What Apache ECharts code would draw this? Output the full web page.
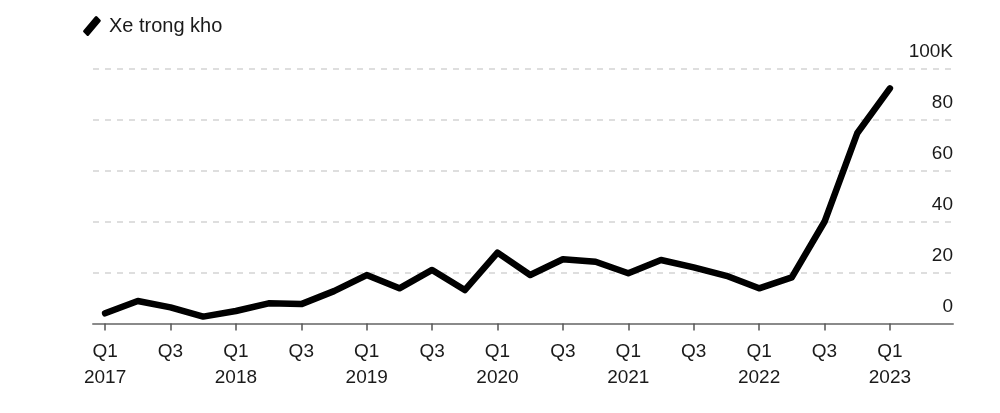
<!DOCTYPE html>
<html>
<head>
<meta charset="utf-8">
<script src="https://cdn.jsdelivr.net/npm/echarts@6/dist/echarts.min.js"></script>
<style>
  html, body { margin: 0; padding: 0; background: #fff; }
  #chart { width: 1000px; height: 413px; }
</style>
</head>
<body>
<div id="chart"></div>
<script>
// Quarterly categories (Q1 2017 .. Q1 2023)
const quarters = [
  'Q1 2017','Q2 2017','Q3 2017','Q4 2017',
  'Q1 2018','Q2 2018','Q3 2018','Q4 2018',
  'Q1 2019','Q2 2019','Q3 2019','Q4 2019',
  'Q1 2020','Q2 2020','Q3 2020','Q4 2020',
  'Q1 2021','Q2 2021','Q3 2021','Q4 2021',
  'Q1 2022','Q2 2022','Q3 2022','Q4 2022',
  'Q1 2023'
];
// Vehicles in inventory (thousands)
const inventory = [
  4.0, 8.8, 6.3, 2.7,
  4.9, 7.9, 7.6, 12.7,
  19.0, 13.8, 21.0, 13.1,
  27.8, 19.0, 25.2, 24.2,
  19.7, 24.9, 22.0, 18.7,
  13.8, 18.1, 39.9, 74.6,
  92.2
];
const seriesName = 'Xe trong kho';
// x-axis tick positions (quarter index) and their labels
const tickIndices = [0, 2, 4, 6, 8, 10, 12, 14, 16, 18, 20, 22, 24];
const tickLabels = [
  'Q1\n2017','Q3','Q1\n2018','Q3','Q1\n2019','Q3','Q1\n2020','Q3',
  'Q1\n2021','Q3','Q1\n2022','Q3','Q1\n2023'
];
const yTicks = [0, 20, 40, 60, 80, 100];
const yTickLabels = ['0', '20', '40', '60', '80', '100K'];

const chart = echarts.init(document.getElementById('chart'), null, { renderer: 'canvas' });
const fontFamily = 'Liberation Sans, Arial, sans-serif';

const option = {
  backgroundColor: '#fff',
  animation: false,
  legend: {
    show: true,
    left: 78,
    top: 11,
    itemWidth: 24,
    itemHeight: 20,
    itemGap: 6,
    icon: 'path://M0,14 L11,1 Q12,0 13,1 L16,4 Q17,5 16,6 L5,19 Q4,20 3,19 L0,16 Q-1,15 0,14 Z',
    textStyle: { fontFamily: fontFamily, fontSize: 20, color: '#1a1a1a' },
    data: [{ name: seriesName, itemStyle: { color: '#000' } }]
  },
  grid: {
    left: 93,
    right: 47,
    top: 68.5,
    bottom: 89.5,
    containLabel: false
  },
  xAxis: {
    type: 'value',
    min: -0.37,
    max: 25.93,
    axisLine: { show: true, lineStyle: { color: '#8a8a8a', width: 2 } },
    axisTick: {
      show: true,
      customValues: tickIndices,
      length: 7,
      lineStyle: { color: '#555', width: 1.5 }
    },
    axisLabel: {
      show: true,
      customValues: tickIndices,
      margin: 15,
      fontFamily: fontFamily,
      fontSize: 19,
      lineHeight: 26,
      color: '#1a1a1a',
      formatter: function (v) {
        const k = tickIndices.indexOf(Math.round(v));
        return k >= 0 ? tickLabels[k] : '';
      }
    },
    splitLine: { show: false }
  },
  yAxis: {
    type: 'value',
    position: 'right',
    min: 0,
    max: 100,
    interval: 20,
    axisLine: { show: false },
    axisTick: { show: false },
    axisLabel: {
      inside: true,
      margin: 0,
      align: 'right',
      verticalAlign: 'bottom',
      padding: [0, 0, 7, 0],
      fontFamily: fontFamily,
      fontSize: 19,
      color: '#1a1a1a',
      formatter: function (v) {
        const k = yTicks.indexOf(v);
        return k >= 0 ? yTickLabels[k] : '';
      }
    },
    splitLine: {
      show: true,
      lineStyle: { color: '#d4d4d4', width: 1.5, type: [6, 6] }
    }
  },
  series: [{
    name: seriesName,
    type: 'line',
    data: inventory.map((v, i) => [i, v]),
    showSymbol: false,
    symbol: 'none',
    lineStyle: { color: '#000', width: 6.5, join: 'round', cap: 'round' },
    itemStyle: { color: '#000' }
  }]
};
chart.setOption(option);
</script>
</body>
</html>
